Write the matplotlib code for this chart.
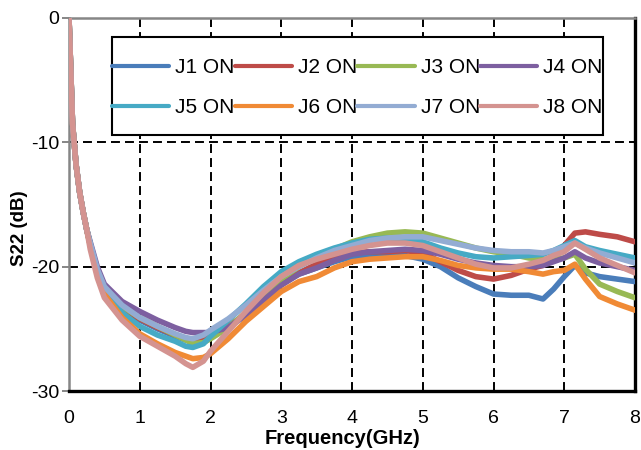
import matplotlib
matplotlib.use("Agg")
import matplotlib.pyplot as plt
from matplotlib.patches import Rectangle

plt.rcParams['font.family'] = ['Liberation Sans', 'DejaVu Sans']

# Frequency samples (GHz)
freq = [0, 0.05, 0.1, 0.15, 0.2, 0.25,
        0.3, 0.4, 0.5, 0.75, 1.0, 1.25, 1.5, 1.65, 1.75, 1.9, 2.0, 2.25, 2.5, 2.75,
        3.0, 3.25, 3.5, 3.75, 4.0, 4.25, 4.5, 4.75, 5.0, 5.25, 5.5, 5.75, 6.0, 6.25,
        6.5, 6.7, 6.85, 7.0, 7.15, 7.3, 7.5, 7.75, 8.0]

# Shared steep roll-off near DC (dB)
start = [0, -8.5, -11.8, -14.0, -15.6, -17.0]

# S22 (dB) per switch state
j1 = start + [-18.2, -20.4, -21.8, -23.4, -24.3, -25.0, -25.6, -25.9, -26.0, -25.9, -25.6, -24.9, -23.9, -22.6,
              -21.4, -20.6, -20.1, -19.6, -19.2, -19.1, -19.0, -19.1, -19.4, -20.0, -20.9, -21.6, -22.2, -22.3,
              -22.3, -22.6, -21.8, -20.8, -19.9, -20.5, -20.8, -21.0, -21.2]
j2 = start + [-18.2, -20.3, -21.7, -23.3, -24.2, -24.9, -25.5, -25.8, -25.9, -25.8, -25.5, -24.8, -23.8, -22.5,
              -21.3, -20.5, -19.8, -19.3, -18.9, -18.8, -18.8, -18.7, -18.9, -19.6, -20.3, -20.8, -21.0, -20.7,
              -20.2, -19.9, -19.3, -18.3, -17.3, -17.2, -17.4, -17.6, -18.0]
j3 = start + [-18.2, -20.3, -21.6, -23.2, -24.1, -24.8, -25.5, -25.9, -26.2, -26.1, -25.8, -24.9, -23.7, -22.3,
              -21.0, -20.0, -19.2, -18.6, -18.0, -17.6, -17.3, -17.2, -17.3, -17.7, -18.1, -18.5, -18.8, -19.0,
              -19.3, -19.4, -19.4, -19.3, -19.0, -20.2, -21.4, -22.0, -22.5]
j4 = start + [-18.0, -20.0, -21.4, -22.8, -23.6, -24.3, -24.9, -25.2, -25.3, -25.3, -25.3, -24.9, -23.9, -22.7,
              -21.5, -20.6, -20.1, -19.5, -19.0, -18.8, -18.7, -18.6, -18.7, -19.0, -19.4, -19.7, -19.9, -20.0,
              -20.0, -19.9, -19.6, -19.3, -18.8, -19.3, -19.7, -20.0, -20.3]
j5 = start + [-18.2, -20.4, -21.9, -23.7, -24.8, -25.5, -26.0, -26.4, -26.5, -26.2, -25.6, -24.3, -23.0, -21.6,
              -20.4, -19.6, -19.0, -18.5, -18.1, -17.8, -17.7, -17.8, -18.0, -18.5, -18.9, -19.2, -19.3, -19.2,
              -19.1, -19.0, -18.7, -18.3, -17.9, -18.4, -18.7, -19.0, -19.3]
j6 = start + [-18.3, -20.6, -22.2, -24.1, -25.4, -26.2, -26.9, -27.2, -27.4, -27.3, -27.0, -25.8, -24.4, -23.2,
              -22.0, -21.2, -20.8, -20.1, -19.6, -19.4, -19.3, -19.2, -19.2, -19.5, -19.9, -20.1, -20.2, -20.2,
              -20.4, -20.6, -20.4, -20.3, -19.8, -21.0, -22.4, -23.0, -23.5]
j7 = start + [-18.1, -20.2, -21.6, -23.1, -24.1, -24.8, -25.4, -25.7, -25.8, -25.5, -25.1, -24.2, -23.1, -21.9,
              -20.8, -20.0, -19.3, -18.7, -18.3, -17.9, -17.7, -17.6, -17.6, -17.9, -18.2, -18.5, -18.7, -18.8,
              -18.8, -18.9, -18.7, -18.4, -18.1, -18.5, -18.9, -19.3, -19.7]
j8 = start + [-18.6, -20.9, -22.5, -24.3, -25.6, -26.4, -27.2, -27.8, -28.1, -27.6, -26.8, -25.2, -23.6, -22.1,
              -20.8, -19.9, -19.4, -19.0, -18.6, -18.3, -18.1, -18.1, -18.3, -18.8, -19.3, -19.8, -20.1, -20.1,
              -19.8, -19.5, -19.1, -18.8, -18.1, -18.6, -19.3, -19.9, -20.5]

labels = ['J1 ON', 'J2 ON', 'J3 ON', 'J4 ON', 'J5 ON', 'J6 ON', 'J7 ON', 'J8 ON']
series = [j1, j2, j3, j4, j5, j6, j7, j8]
colors = ['#4A7DBA', '#BE4B48', '#98B954', '#7D5FA0', '#46AAC5', '#F08A35', '#93ACD3', '#D49390']

xticks = [0, 1, 2, 3, 4, 5, 6, 7, 8]
yticks = [0, -10, -20, -30]

fig = plt.figure(figsize=(6.41, 4.5), dpi=100)
ax = fig.add_axes([69 / 641, 1 - 391 / 450, 566 / 641, 373 / 450])

handles = []
for vals, lab, col in zip(series, labels, colors):
    ln, = ax.plot(freq, vals, color=col, lw=4.0, label=lab,
                  solid_capstyle='round', solid_joinstyle='round', zorder=3)
    handles.append(ln)

ax.set_xlim(0, 8)
ax.set_ylim(-30, 0)
ax.set_xticks(xticks)
ax.set_yticks(yticks)
ax.set_xticklabels([str(v) for v in xticks], fontsize=14)
ax.set_yticklabels([str(v) for v in yticks], fontsize=14)
ax.tick_params(axis='x', length=0, pad=14)
ax.tick_params(axis='y', length=5, width=1.4, color='#868686', pad=2)

# dashed grid at interior ticks only
for xv in xticks[1:-1]:
    ax.axvline(xv, color='black', lw=1.4, dashes=(4.6, 2.6), zorder=1)
for yv in yticks[1:-1]:
    ax.axhline(yv, color='black', lw=1.4, dashes=(4.6, 2.6), zorder=1)

ax.spines['left'].set_color('#868686')
ax.spines['left'].set_linewidth(1.8)
ax.spines['top'].set_color('#868686')
ax.spines['top'].set_linewidth(1.8)
ax.spines['bottom'].set_color('black')
ax.spines['bottom'].set_linewidth(2.4)
ax.spines['right'].set_color('black')
ax.spines['right'].set_linewidth(2.4)

# legend frame
ax.add_patch(Rectangle((0.076, 0.686), 0.867, 0.263, transform=ax.transAxes,
                       facecolor='white', edgecolor='black', lw=1.5, zorder=4))
order = [0, 4, 1, 5, 2, 6, 3, 7]
leg = ax.legend([handles[i] for i in order], [labels[i] for i in order],
                ncol=4, loc='upper left', bbox_to_anchor=(0.076, 0.893),
                frameon=False, fontsize=15, handlelength=2.75, handletextpad=0.29,
                columnspacing=0.0, labelspacing=1.02, borderpad=0, borderaxespad=0)
leg.set_zorder(5)
for h in leg.legend_handles:
    h.set_linewidth(3.0)
    h.set_solid_capstyle('round')

fig.text(342 / 641, 1 - 438 / 450, 'Frequency(GHz)', fontsize=14.5, fontweight='bold',
         ha='center', va='center')
fig.text(20 / 641, 1 - 228 / 450, 'S22 (dB)', fontsize=13.5, fontweight='bold',
         ha='center', va='center', rotation=90)

fig.savefig('out.png', dpi=100)
